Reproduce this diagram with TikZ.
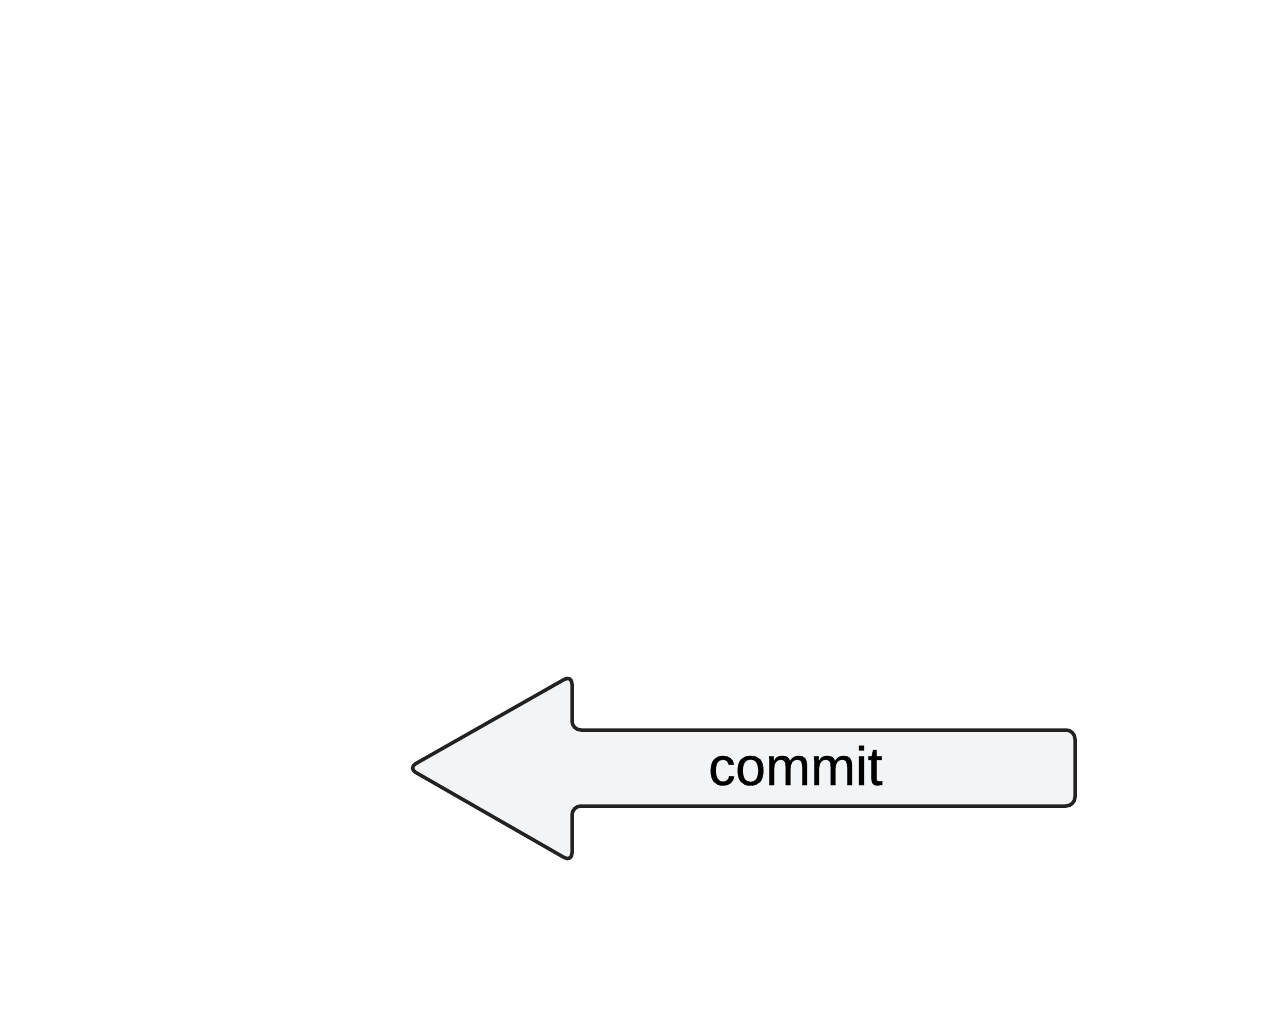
\documentclass[tikz,border=0pt]{standalone}
\usepackage{fontspec}
\setmainfont{Liberation Sans}
\newfontfamily\labelfont[FakeBold=0.6]{Liberation Sans}
\definecolor{arrowfill}{HTML}{F3F4F6}
\definecolor{arrowline}{HTML}{222222}
\tikzset{
  bigarrow/.style={draw=arrowline, fill=arrowfill, line width=3.5pt, rounded corners=9pt, line join=round},
  arrowlabel/.style={font=\labelfont\fontsize{54}{62}\selectfont, text=black, inner sep=0pt, anchor=base}
}
\begin{document}
\begin{tikzpicture}[x=1pt,y=-1pt]
\useasboundingbox (0,0) rectangle (1265,1023);
\fill[white] (0,0) rectangle (1265,1023);
\draw[bigarrow] (408,768) -- (572,675) -- (572,730) -- (1075,730) -- (1075,806) -- (572,806) -- (572,862) -- cycle;
\node[arrowlabel] (label) at (795.5,785) {commit};
\end{tikzpicture}
\end{document}
